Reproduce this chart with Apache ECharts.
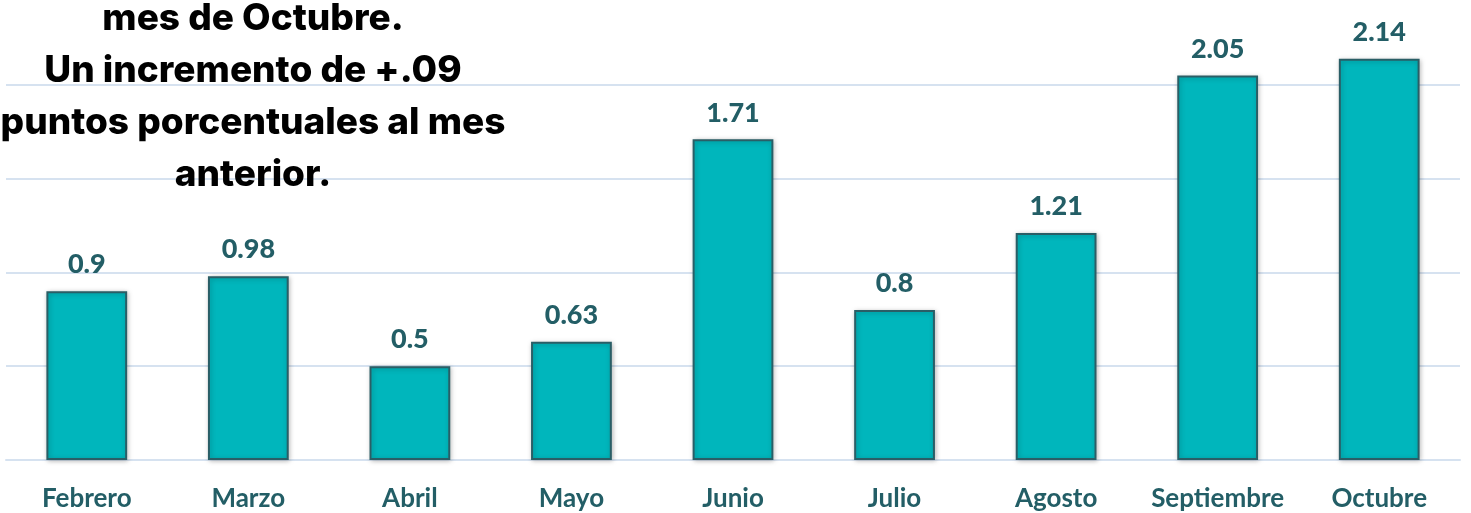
<!DOCTYPE html>
<html><head><meta charset="utf-8">
<script src="https://cdn.jsdelivr.net/npm/echarts@6/dist/echarts.min.js"></script>
<style>html,body{margin:0;padding:0;background:#fff}#c{width:1471px;height:513px}</style>
</head><body><div id="c"></div>
<script>
const categories = ['Febrero','Marzo','Abril','Mayo','Junio','Julio','Agosto','Septiembre','Octubre'];
const values = [0.9, 0.98, 0.5, 0.63, 1.71, 0.8, 1.21, 2.05, 2.14];
const titleLines = ['mes de Octubre.','Un incremento de +.09','puntos porcentuales al mes','anterior.'];

const chart = echarts.init(document.getElementById('c'));
const titleY = [19, 71, 123, 175];
chart.setOption({
  animation: false,
  grid: {left: 6, right: 11, top: 0, bottom: 53},
  xAxis: {
    type: 'category', data: categories,
    axisLine: {lineStyle: {color: '#D6E2F0', width: 2}},
    axisTick: {show: false},
    axisLabel: {interval: 0, color: '#235E66', fontFamily: 'Lato', fontWeight: 'bold', fontSize: 26, margin: 26}
  },
  yAxis: {
    type: 'value', min: 0, max: 2.4533, interval: 0.5,
    axisLabel: {show: false}, axisLine: {show: false}, axisTick: {show: false},
    splitLine: {showMaxLine: false, lineStyle: {color: '#D6E2F0', width: 2}}
  },
  series: [{
    type: 'bar', data: values, barWidth: '50%',
    itemStyle: {color: '#00B6BC', borderColor: '#2A5E66', borderWidth: 2,
      shadowBlur: 5, shadowColor: 'rgba(0,0,0,0.25)', shadowOffsetX: 1, shadowOffsetY: 1},
    label: {show: true, position: 'top', distance: 13, color: '#235E66',
      fontFamily: 'Lato', fontWeight: 900, fontSize: 27}
  }],
  graphic: titleLines.map((t, i) => ({
    type: 'text', x: 253, y: titleY[i], z: 100,
    style: {text: t, fill: '#000', font: '800 37px Inter', textAlign: 'center', textVerticalAlign: 'middle'}
  }))
});
</script></body></html>
